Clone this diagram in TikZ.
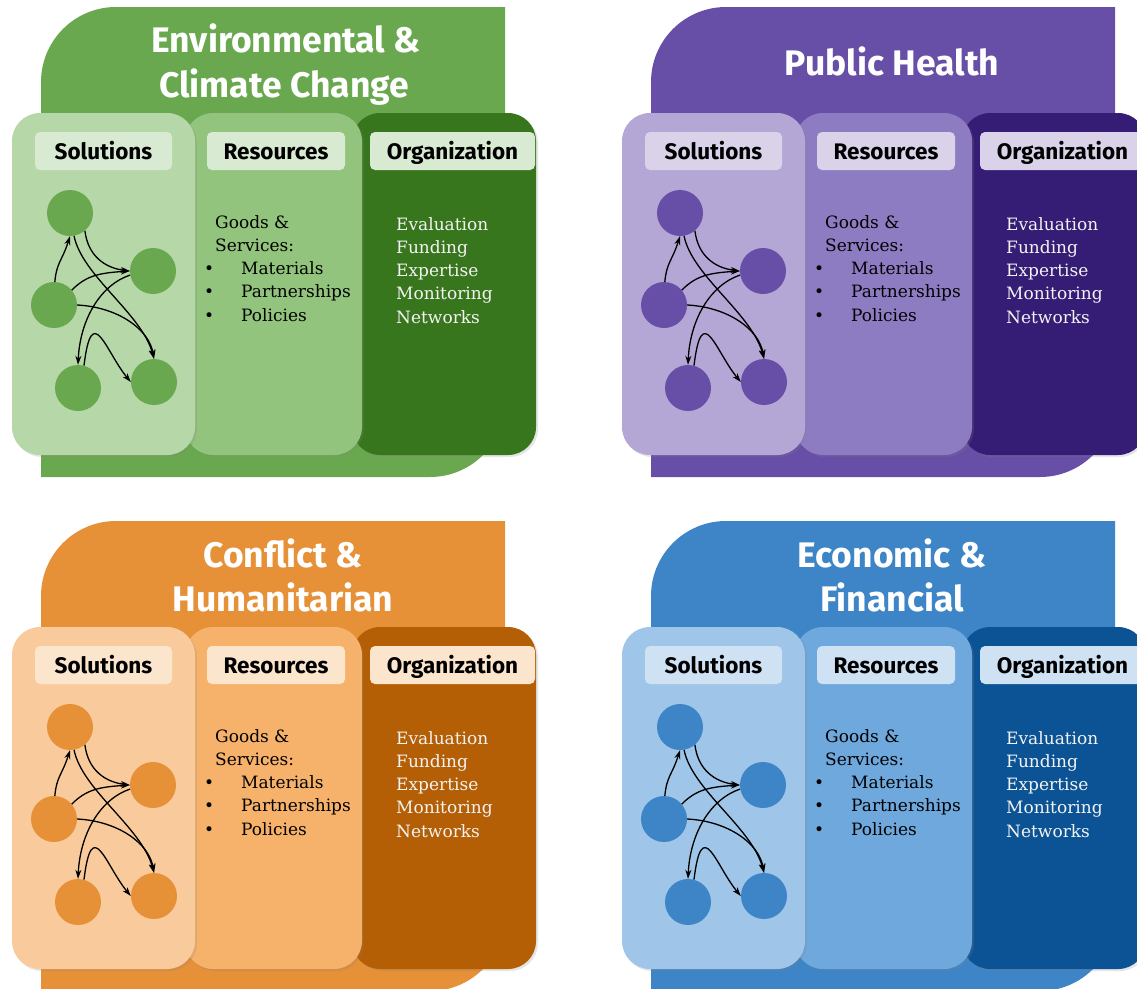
\documentclass[tikz,border=0pt]{standalone}
\usepackage{fontspec}
\setmainfont{DejaVu Serif}
\setsansfont{Fira Sans}
\usetikzlibrary{arrows.meta,shadows}

% colour families: background, solutions, resources, organization, tag
\definecolor{greenBg}{HTML}{6AA84F}\definecolor{greenSol}{HTML}{B6D7A8}
\definecolor{greenRes}{HTML}{93C47D}\definecolor{greenOrg}{HTML}{38761D}
\definecolor{greenTag}{HTML}{D9EAD3}
\definecolor{purpleBg}{HTML}{674EA7}\definecolor{purpleSol}{HTML}{B4A7D6}
\definecolor{purpleRes}{HTML}{8E7CC3}\definecolor{purpleOrg}{HTML}{351C75}
\definecolor{purpleTag}{HTML}{D9D2E9}
\definecolor{orangeBg}{HTML}{E69138}\definecolor{orangeSol}{HTML}{F9CB9C}
\definecolor{orangeRes}{HTML}{F6B26B}\definecolor{orangeOrg}{HTML}{B45F06}
\definecolor{orangeTag}{HTML}{FCE5CD}
\definecolor{blueBg}{HTML}{3D85C6}\definecolor{blueSol}{HTML}{9FC5E8}
\definecolor{blueRes}{HTML}{6FA8DC}\definecolor{blueOrg}{HTML}{0B5394}
\definecolor{blueTag}{HTML}{CFE2F3}
\definecolor{orgText}{HTML}{F3F3F3}

\tikzset{
  card/.style={rounded corners=28pt, minimum height=342pt, inner sep=0pt,
    drop shadow={shadow xshift=2pt, shadow yshift=-2pt, opacity=0.2}},
  tag/.style={rounded corners=5pt, minimum height=38pt, inner sep=0pt,
    font=\sffamily\bfseries\fontsize{22.5}{26}\selectfont,
    text height=16.5pt, text depth=0pt},
  dot/.style={circle, minimum size=46pt, inner sep=0pt},
  link/.style={-{Stealth[length=9pt,width=6pt]}, line width=1.3pt, black},
  body/.style={anchor=base west, inner sep=0pt, font=\fontsize{17}{23}\selectfont},
  headline/.style={anchor=base, inner sep=0pt, text=white,
    font=\sffamily\bfseries\fontsize{35.5}{42}\selectfont},
}

% one theme panel: #1,#2 offset, #3 name prefix, #4 colour family
\newcommand{\infopanel}[4]{%
\begin{scope}[shift={(#1,#2)}]
  \fill[#4Bg] (41,477) -- (41,82) .. controls (41,40.6) and (74.6,7) .. (116,7)
    -- (505,7) -- (505,402) .. controls (505,443.4) and (471.4,477) .. (430,477) -- cycle;
  \node[card, fill=#4Org, minimum width=184pt] (#3org) at (444,284) {};
  \node[card, fill=#4Res, minimum width=177pt] (#3res) at (273.5,284) {};
  \node[card, fill=#4Sol, minimum width=183pt] (#3sol) at (103.5,284) {};
  \node[tag, fill=#4Tag, minimum width=137pt] (#3solT) at (103.5,151) {Solutions};
  \node[tag, fill=#4Tag, minimum width=138pt] (#3resT) at (276,151) {Resources};
  \node[tag, fill=#4Tag, minimum width=165pt] (#3orgT) at (452.5,151) {Organization};
  % resources list
  \foreach \t [count=\i from 0] in {Goods \&, Services:}
    \node[body] (#3g\i) at (215,{228+23.3*\i}) {\t};
  \foreach \t [count=\i from 0] in {Materials, Partnerships, Policies}
    \node[body] (#3it\i) at (241,{274.6+23.3*\i}) {\llap{\textbullet\hspace{27pt}}\t};
  % organization list
  \foreach \t [count=\i from 0] in {Evaluation, Funding, Expertise, Monitoring, Networks}
    \node[body, text=orgText] (#3o\i) at (396,{230+23.3*\i}) {\t};
  % solution network
  \node[dot, fill=#4Bg] (#3n1) at (70,213) {};
  \node[dot, fill=#4Bg] (#3n2) at (153,271) {};
  \node[dot, fill=#4Bg] (#3n3) at (54,305) {};
  \node[dot, fill=#4Bg] (#3n4) at (78,388) {};
  \node[dot, fill=#4Bg] (#3n5) at (154,382) {};
  \draw[link] (#3n3.88) .. controls +(2,-20) and +(-8,25) .. (#3n1.south);
  \draw[link] (#3n1.-50) .. controls +(3,25) and +(-25,-3) .. (#3n2.west);
  \draw[link] (#3n3.40) .. controls +(15,-15) and +(-30,2) .. (#3n2.west);
  \draw[link] (#3n1.-80) .. controls +(8,40) and +(-12,-45) .. (#3n5.north);
  \draw[link] (#3n3.east) .. controls +(40,2) and +(-5,-30) .. (#3n5.north);
  \draw[link] (#3n2.190) .. controls +(-30,10) and +(2,-45) .. (#3n4.north);
  \draw[link] (#3n4.75) .. controls +(8,-66) and +(-25,-30) .. (#3n5.west);
\end{scope}}

\begin{document}
\begin{tikzpicture}[x=1pt,y=-1pt]
  \useasboundingbox (0,0) rectangle (1137,988);
  \clip (0,0) rectangle (1137,988);
  \fill[white] (0,0) rectangle (1137,988);

  \infopanel{0}{0}{env}{green}
  \infopanel{610}{0}{hea}{purple}
  \infopanel{0}{514}{con}{orange}
  \infopanel{610}{514}{eco}{blue}

  \node[headline] (envA) at (286,52) {Environmental \&};
  \node[headline] (envB) at (284,97) {Climate Change};
  \node[headline] (heaA) at (892,75) {Public Health};
  \node[headline] (conA) at (283,567) {Conflict \&};
  \node[headline] (conB) at (283,611) {Humanitarian};
  \node[headline] (ecoA) at (892,567) {Economic \&};
  \node[headline] (ecoB) at (892,611) {Financial};
\end{tikzpicture}
\end{document}
